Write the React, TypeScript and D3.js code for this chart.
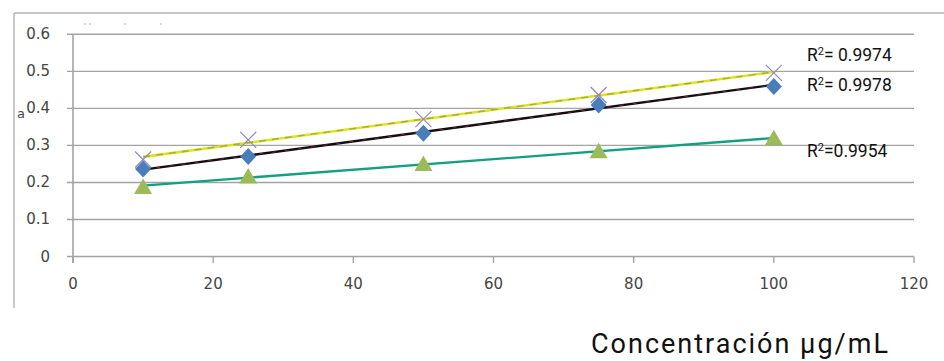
import React from "react";
import * as d3 from "d3";

const concentrations = [10, 25, 50, 75, 100];
const seriesDiamond = [0.236, 0.27, 0.333, 0.409, 0.459];
const seriesCross = [0.262, 0.315, 0.371, 0.436, 0.496];
const seriesTriangle = [0.188, 0.216, 0.25, 0.284, 0.319];
const xTicks = [0, 20, 40, 60, 80, 100, 120];
const yTicks = [0, 0.1, 0.2, 0.3, 0.4, 0.5, 0.6];
const r2Labels = ["0.9974", "0.9978", "0.9954"];
const xTitle = "Concentración µg/mL";

const W = 944;
const H = 361;

function regress(xs: number[], ys: number[]) {
  const mx = d3.mean(xs)!;
  const my = d3.mean(ys)!;
  let num = 0;
  let den = 0;
  xs.forEach((x, i) => {
    num += (x - mx) * (ys[i] - my);
    den += (x - mx) * (x - mx);
  });
  const b = num / den;
  const a = my - b * mx;
  return (x: number) => a + b * x;
}

export default function App() {
  const x = d3.scaleLinear().domain([0, 120]).range([73, 914]);
  const y = d3.scaleLinear().domain([0, 0.6]).range([256.5, 34.3]);
  const x0 = d3.min(concentrations)!;
  const x1 = d3.max(concentrations)!;
  const fD = regress(concentrations, seriesDiamond);
  const fC = regress(concentrations, seriesCross);
  const fT = regress(concentrations, seriesTriangle);
  const line = (f: (v: number) => number) =>
    d3.line<number>().x((d) => x(d)).y((d) => y(f(d)))([x0, x1]) || "";

  const tickFont = "DejaVu Sans, sans-serif";
  const diamond = "M0,-8.5L8,0L0,8.5L-8,0Z";
  const triangle = "M0,-8.5L9,7L-9,7Z";

  return (
    <svg
      width={W}
      height={H}
      style={{ position: "absolute", left: 0, top: 0, background: "#fff" }}
    >
      <rect x={0} y={0} width={W} height={H} fill="#fff" />
      {/* outer chart border */}
      <line x1={14} y1={13} x2={W} y2={13} stroke="#b4b4b4" strokeWidth={1.5} />
      <line x1={14} y1={13} x2={14} y2={308} stroke="#b4b4b4" strokeWidth={1.5} />
      {[85, 90, 125, 161].map((cx, i) => (
        <circle key={i} cx={cx} cy={24} r={0.9} fill="#c8c8c8" />
      ))}

      {/* gridlines */}
      {yTicks.map((t) => (
        <line
          key={t}
          x1={67}
          x2={914}
          y1={y(t)}
          y2={y(t)}
          stroke="#a3a3a3"
          strokeWidth={1.4}
        />
      ))}
      {/* y axis */}
      <line x1={x(0)} x2={x(0)} y1={y(0.6)} y2={263} stroke="#a3a3a3" strokeWidth={1.6} />
      {/* x ticks */}
      {xTicks.map((t) => (
        <line key={t} x1={x(t)} x2={x(t)} y1={y(0)} y2={263} stroke="#a3a3a3" strokeWidth={1.4} />
      ))}
      {/* y labels */}
      {yTicks.map((t) => (
        <text
          key={t}
          x={50}
          y={y(t) + 5}
          textAnchor="end"
          fontFamily={tickFont}
          fontSize={15}
          fill="#454545"
        >
          {t === 0 ? "0" : t.toFixed(1)}
        </text>
      ))}
      <text x={17} y={118} fontFamily={tickFont} fontSize={13} fill="#454545">
        a
      </text>
      {/* x labels */}
      {xTicks.map((t) => (
        <text
          key={t}
          x={x(t)}
          y={289}
          textAnchor="middle"
          fontFamily={tickFont}
          fontSize={15}
          fill="#454545"
        >
          {t}
        </text>
      ))}

      {/* trend lines */}
      <path d={line(fT)} stroke="#12a080" strokeWidth={2.3} fill="none" />
      <path d={line(fD)} stroke="#0e0e0e" strokeWidth={2.4} fill="none" />
      <path d={line(fD)} stroke="#7a2236" strokeWidth={1} strokeDasharray="4 9" fill="none" />
      <path d={line(fC)} stroke="#dde41e" strokeWidth={2.6} fill="none" />
      <path d={line(fC)} stroke="#a9ab3a" strokeWidth={1.4} strokeDasharray="7 6" fill="none" />

      {/* markers */}
      {concentrations.map((c, i) => (
        <path
          key={"t" + i}
          d={triangle}
          transform={`translate(${x(c)},${y(seriesTriangle[i])})`}
          fill="#9bbb59"
        />
      ))}
      {concentrations.map((c, i) => (
        <path
          key={"d" + i}
          d={diamond}
          transform={`translate(${x(c)},${y(seriesDiamond[i])})`}
          fill="#4a7ebb"
        />
      ))}
      {concentrations.map((c, i) => {
        const cx = x(c);
        const cy = y(seriesCross[i]);
        const s = 8;
        return (
          <g key={"c" + i} stroke="#8d86c4" strokeWidth={1.2}>
            <line x1={cx - s} y1={cy - s} x2={cx + s} y2={cy + s} />
            <line x1={cx - s} y1={cy + s} x2={cx + s} y2={cy - s} />
          </g>
        );
      })}

      {/* R² labels */}
      {[
        { label: r2Labels[0], yy: 61, gap: " " },
        { label: r2Labels[1], yy: 91, gap: " " },
        { label: r2Labels[2], yy: 157, gap: "" },
      ].map((d, i) => (
        <text key={i} x={807} y={d.yy} fontFamily="Roboto, sans-serif" fontSize={17.5} fill="#111">
          R
          <tspan fontSize={11} dy={-6}>
            2
          </tspan>
          <tspan dy={6}>{"=" + d.gap + d.label}</tspan>
        </text>
      ))}

      {/* x title */}
      <text
        x={591}
        y={353}
        fontFamily="Roboto, sans-serif"
        fontSize={27}
        letterSpacing={2}
        fill="#111"
      >
        {xTitle}
      </text>
    </svg>
  );
}
